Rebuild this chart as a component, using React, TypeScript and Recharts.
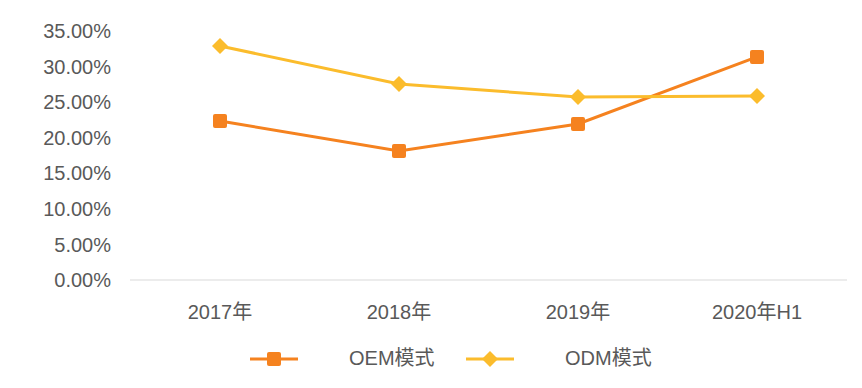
import React from 'react';
import { LineChart, Line, XAxis, YAxis, Legend } from 'recharts';

const categories = ['2017年', '2018年', '2019年', '2020年H1'];
const oemValues = [0.2235, 0.1813, 0.2193, 0.3135];
const odmValues = [0.329, 0.2755, 0.2572, 0.2586];
const yTicks = [0, 0.05, 0.1, 0.15, 0.2, 0.25, 0.3, 0.35];

const data = categories.map((name, i) => ({ name, oem: oemValues[i], odm: odmValues[i] }));

const OEM_COLOR = '#F5821F';
const ODM_COLOR = '#FBBC2C';
const TEXT = '#595959';
const FONT = '"Liberation Sans", Arial, "Noto Sans CJK SC", sans-serif';
const FS = 20;

const SquareDot = (props: any) => {
  const { cx, cy } = props;
  if (cx == null || cy == null) return null;
  return <rect x={cx - 7} y={cy - 7} width={14} height={14} rx={2} fill={OEM_COLOR} />;
};

const DiamondDot = (props: any) => {
  const { cx, cy } = props;
  if (cx == null || cy == null) return null;
  return <path d={`M${cx},${cy - 8}L${cx + 8},${cy}L${cx},${cy + 8}L${cx - 8},${cy}Z`} fill={ODM_COLOR} />;
};

const LegendContent = () => (
  <div style={{ position: 'relative', width: 862, height: 68, fontFamily: FONT, fontSize: FS, color: TEXT }}>
    <svg style={{ position: 'absolute', left: 250, top: 30 }} width={50} height={18}>
      <line x1={0} y1={9} x2={48} y2={9} stroke={OEM_COLOR} strokeWidth={3} />
      <rect x={17} y={2} width={14} height={14} rx={2} fill={OEM_COLOR} />
    </svg>
    <span style={{ position: 'absolute', left: 349, top: 26, lineHeight: '24px', whiteSpace: 'nowrap' }}>OEM模式</span>
    <svg style={{ position: 'absolute', left: 466, top: 30 }} width={50} height={18}>
      <line x1={0} y1={9} x2={48} y2={9} stroke={ODM_COLOR} strokeWidth={3} />
      <path d="M24,1L32,9L24,17L16,9Z" fill={ODM_COLOR} />
    </svg>
    <span style={{ position: 'absolute', left: 565, top: 26, lineHeight: '24px', whiteSpace: 'nowrap' }}>ODM模式</span>
  </div>
);

const App: React.FC = () => {
  return (
    <div style={{ position: 'absolute', left: 0, top: 0, background: '#fff' }}>
      <LineChart width={862} height={388} data={data} margin={{ top: 31, right: 15, left: 0, bottom: 0 }}>
        <XAxis
          dataKey="name"
          height={40}
          padding={{ left: 90, right: 90 }}
          axisLine={{ stroke: '#D9D9D9' }}
          tickLine={false}
          tickSize={0}
          tickMargin={25}
          tick={{ fill: TEXT, fontSize: FS, fontFamily: FONT }}
        />
        <YAxis
          width={130}
          domain={[0, 0.35]}
          ticks={yTicks}
          axisLine={false}
          tickLine={false}
          tickSize={0}
          tickMargin={19}
          tickFormatter={(v: number) => (v * 100).toFixed(2) + '%'}
          tick={{ fill: TEXT, fontSize: FS, fontFamily: FONT }}
        />
        <Legend verticalAlign="bottom" content={<LegendContent />} wrapperStyle={{ left: 0, width: 862 }} />
        <Line
          type="linear"
          dataKey="oem"
          name="OEM模式"
          stroke={OEM_COLOR}
          strokeWidth={3}
          dot={<SquareDot />}
          activeDot={false}
          isAnimationActive={false}
        />
        <Line
          type="linear"
          dataKey="odm"
          name="ODM模式"
          stroke={ODM_COLOR}
          strokeWidth={3}
          dot={<DiamondDot />}
          activeDot={false}
          isAnimationActive={false}
        />
      </LineChart>
    </div>
  );
};

export default App;
